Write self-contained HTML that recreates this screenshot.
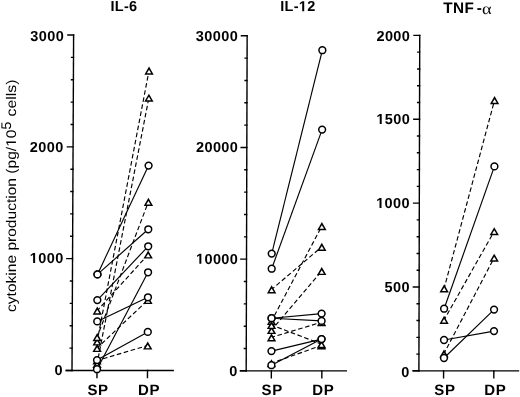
<!DOCTYPE html>
<html><head><meta charset="utf-8"><style>
html,body{margin:0;padding:0;background:#fff;}
body{width:520px;height:397px;overflow:hidden;}
svg{display:block;will-change:transform;}
text{font-family:"Liberation Sans",sans-serif;fill:#000;text-rendering:geometricPrecision;}
.tk{font-weight:bold;font-size:14.5px;text-anchor:end;letter-spacing:0.4px;}
.cat{font-weight:bold;font-size:15.0px;letter-spacing:0.7px;}
.ttl{font-weight:bold;font-size:14.5px;text-anchor:middle;letter-spacing:0.3px;}
.alpha{font-weight:normal;font-family:"Liberation Serif",serif;font-size:16px;}
.ttl2{font-weight:bold;font-size:15.3px;letter-spacing:0.5px;}
.ylab{font-size:14px;}
.ax{stroke:#000;stroke-width:1.4;fill:none;stroke-linecap:square;}
.sl{stroke:#000;stroke-width:1.15;fill:none;}
.dl{stroke:#000;stroke-width:1.15;fill:none;stroke-dasharray:4.6 2.6;stroke-dashoffset:1;}
.ci{stroke:#000;stroke-width:1.5;fill:#fff;}
.tr{stroke:#000;stroke-width:1.5;fill:#fff;stroke-linejoin:miter;}
</style></head><body>
<svg width="520" height="397" viewBox="0 0 520 397">
<text id="o5" class="ylab" transform="translate(15.9 312.0) rotate(-90) scale(1.111 1)">cytokine production (pg/ 0</text>
<text class="ylab" transform="translate(10.5 129.5) rotate(-90)">5</text>
<text class="ylab" transform="translate(15.9 116.5) rotate(-90) scale(1.13 1)">cells)</text>
<g transform="matrix(1 0 -0.0048 1 1.7782 0)"><path d="M72.00 35.00V370.45" class="ax"/>
<path d="M66.30 370.45H173.20" class="ax"/>
<path d="M66.30 370.50H72.00" class="ax"/>
<path d="M66.30 258.67H72.00" class="ax"/>
<path d="M66.30 146.83H72.00" class="ax"/>
<path d="M66.30 35.00H72.00" class="ax"/>
<path d="M70.10 348.09H72.00" class="ax"/>
<path d="M70.10 325.72H72.00" class="ax"/>
<path d="M70.10 303.36H72.00" class="ax"/>
<path d="M70.10 281.00H72.00" class="ax"/>
<path d="M70.10 236.27H72.00" class="ax"/>
<path d="M70.10 213.91H72.00" class="ax"/>
<path d="M70.10 191.54H72.00" class="ax"/>
<path d="M70.10 169.18H72.00" class="ax"/>
<path d="M70.10 124.45H72.00" class="ax"/>
<path d="M70.10 102.09H72.00" class="ax"/>
<path d="M70.10 79.73H72.00" class="ax"/>
<path d="M70.10 57.36H72.00" class="ax"/>
<path d="M97.00 370.45V377.45" class="ax"/>
<path d="M147.50 370.45V377.45" class="ax"/>
<path d="M97.00 310.60L147.60 254.50" class="dl"/>
<path d="M97.00 341.50L147.60 70.60" class="dl"/>
<path d="M97.00 337.10L147.60 201.80" class="dl"/>
<path d="M97.00 348.00L147.60 300.00" class="dl"/>
<path d="M97.00 360.50L147.60 345.50" class="dl"/>
<path d="M97.00 364.00L147.60 97.70" class="dl"/>
<path d="M97.00 274.40L147.60 165.60" class="sl"/>
<path d="M97.00 274.40L147.60 229.30" class="sl"/>
<path d="M97.00 300.10L147.60 246.30" class="sl"/>
<path d="M97.00 321.40L147.60 297.30" class="sl"/>
<path d="M97.00 360.10L147.60 331.90" class="sl"/>
<path d="M97.00 369.20L147.60 272.30" class="sl"/>
<path d="M97.00 306.55L101.65 314.70L92.35 314.70Z"/><path d="M97.00 309.75L99.15 313.25L94.85 313.25Z" fill="#fff"/>
<path d="M147.60 250.45L152.25 258.60L142.95 258.60Z"/><path d="M147.60 253.65L149.75 257.15L145.45 257.15Z" fill="#fff"/>
<path d="M97.00 337.45L101.65 345.60L92.35 345.60Z"/><path d="M97.00 340.65L99.15 344.15L94.85 344.15Z" fill="#fff"/>
<path d="M147.60 66.55L152.25 74.70L142.95 74.70Z"/><path d="M147.60 69.75L149.75 73.25L145.45 73.25Z" fill="#fff"/>
<path d="M97.00 333.05L101.65 341.20L92.35 341.20Z"/><path d="M97.00 336.25L99.15 339.75L94.85 339.75Z" fill="#fff"/>
<path d="M147.60 197.75L152.25 205.90L142.95 205.90Z"/><path d="M147.60 200.95L149.75 204.45L145.45 204.45Z" fill="#fff"/>
<path d="M97.00 343.95L101.65 352.10L92.35 352.10Z"/><path d="M97.00 347.15L99.15 350.65L94.85 350.65Z" fill="#fff"/>
<path d="M147.60 295.95L152.25 304.10L142.95 304.10Z"/><path d="M147.60 299.15L149.75 302.65L145.45 302.65Z" fill="#fff"/>
<path d="M97.00 356.45L101.65 364.60L92.35 364.60Z"/><path d="M97.00 359.65L99.15 363.15L94.85 363.15Z" fill="#fff"/>
<path d="M147.60 341.45L152.25 349.60L142.95 349.60Z"/><path d="M147.60 344.65L149.75 348.15L145.45 348.15Z" fill="#fff"/>
<path d="M97.00 359.95L101.65 368.10L92.35 368.10Z"/><path d="M97.00 363.15L99.15 366.65L94.85 366.65Z" fill="#fff"/>
<path d="M147.60 93.65L152.25 101.80L142.95 101.80Z"/><path d="M147.60 96.85L149.75 100.35L145.45 100.35Z" fill="#fff"/>
<circle cx="97.00" cy="274.40" r="3.4" class="ci"/>
<circle cx="147.60" cy="165.60" r="3.4" class="ci"/>
<circle cx="97.00" cy="274.40" r="3.4" class="ci"/>
<circle cx="147.60" cy="229.30" r="3.4" class="ci"/>
<circle cx="97.00" cy="300.10" r="3.4" class="ci"/>
<circle cx="147.60" cy="246.30" r="3.4" class="ci"/>
<circle cx="97.00" cy="321.40" r="3.4" class="ci"/>
<circle cx="147.60" cy="297.30" r="3.4" class="ci"/>
<circle cx="97.00" cy="360.10" r="3.4" class="ci"/>
<circle cx="147.60" cy="331.90" r="3.4" class="ci"/>
<circle cx="97.00" cy="369.20" r="3.4" class="ci"/>
<circle cx="147.60" cy="272.30" r="3.4" class="ci"/></g>
<text x="124.00" y="10.90" class="ttl">IL-6</text>
<g transform="matrix(1 0 -0.0028 1 1.0384 0)"><path d="M246.20 35.80V370.85" class="ax"/>
<path d="M240.50 370.85H346.30" class="ax"/>
<path d="M240.50 370.80H246.20" class="ax"/>
<path d="M240.50 259.15H246.20" class="ax"/>
<path d="M240.50 147.45H246.20" class="ax"/>
<path d="M240.50 35.80H246.20" class="ax"/>
<path d="M244.30 348.51H246.20" class="ax"/>
<path d="M244.30 326.18H246.20" class="ax"/>
<path d="M244.30 303.84H246.20" class="ax"/>
<path d="M244.30 281.50H246.20" class="ax"/>
<path d="M244.30 236.83H246.20" class="ax"/>
<path d="M244.30 214.49H246.20" class="ax"/>
<path d="M244.30 192.16H246.20" class="ax"/>
<path d="M244.30 169.82H246.20" class="ax"/>
<path d="M244.30 125.15H246.20" class="ax"/>
<path d="M244.30 102.81H246.20" class="ax"/>
<path d="M244.30 80.47H246.20" class="ax"/>
<path d="M244.30 58.14H246.20" class="ax"/>
<path d="M271.35 370.85V377.85" class="ax"/>
<path d="M321.85 370.85V377.85" class="ax"/>
<path d="M271.40 289.40L321.45 246.80" class="dl"/>
<path d="M271.40 321.00L321.45 226.10" class="dl"/>
<path d="M271.40 330.00L321.45 271.00" class="dl"/>
<path d="M271.40 337.30L321.45 322.20" class="dl"/>
<path d="M271.40 363.20L321.45 345.40" class="dl"/>
<path d="M271.40 325.00L321.45 344.10" class="dl"/>
<path d="M271.40 253.60L321.45 50.20" class="sl"/>
<path d="M271.40 268.70L321.45 129.60" class="sl"/>
<path d="M271.40 318.20L321.45 313.60" class="sl"/>
<path d="M271.40 318.20L321.45 320.90" class="sl"/>
<path d="M271.40 351.10L321.45 339.10" class="sl"/>
<path d="M271.40 365.20L321.45 339.10" class="sl"/>
<path d="M271.40 285.35L276.05 293.50L266.75 293.50Z"/><path d="M271.40 288.55L273.55 292.05L269.25 292.05Z" fill="#fff"/>
<path d="M321.45 242.75L326.10 250.90L316.80 250.90Z"/><path d="M321.45 245.95L323.60 249.45L319.30 249.45Z" fill="#fff"/>
<path d="M271.40 316.95L276.05 325.10L266.75 325.10Z"/><path d="M271.40 320.15L273.55 323.65L269.25 323.65Z" fill="#fff"/>
<path d="M321.45 222.05L326.10 230.20L316.80 230.20Z"/><path d="M321.45 225.25L323.60 228.75L319.30 228.75Z" fill="#fff"/>
<path d="M271.40 325.95L276.05 334.10L266.75 334.10Z"/><path d="M271.40 329.15L273.55 332.65L269.25 332.65Z" fill="#fff"/>
<path d="M321.45 266.95L326.10 275.10L316.80 275.10Z"/><path d="M321.45 270.15L323.60 273.65L319.30 273.65Z" fill="#fff"/>
<path d="M271.40 333.25L276.05 341.40L266.75 341.40Z"/><path d="M271.40 336.45L273.55 339.95L269.25 339.95Z" fill="#fff"/>
<path d="M321.45 318.15L326.10 326.30L316.80 326.30Z"/><path d="M321.45 321.35L323.60 324.85L319.30 324.85Z" fill="#fff"/>
<path d="M271.40 359.15L276.05 367.30L266.75 367.30Z"/><path d="M271.40 362.35L273.55 365.85L269.25 365.85Z" fill="#fff"/>
<path d="M321.45 341.35L326.10 349.50L316.80 349.50Z"/><path d="M321.45 344.55L323.60 348.05L319.30 348.05Z" fill="#fff"/>
<path d="M271.40 320.95L276.05 329.10L266.75 329.10Z"/><path d="M271.40 324.15L273.55 327.65L269.25 327.65Z" fill="#fff"/>
<path d="M321.45 340.05L326.10 348.20L316.80 348.20Z"/><path d="M321.45 343.25L323.60 346.75L319.30 346.75Z" fill="#fff"/>
<circle cx="271.40" cy="253.60" r="3.4" class="ci"/>
<circle cx="321.45" cy="50.20" r="3.4" class="ci"/>
<circle cx="271.40" cy="268.70" r="3.4" class="ci"/>
<circle cx="321.45" cy="129.60" r="3.4" class="ci"/>
<circle cx="271.40" cy="318.20" r="3.4" class="ci"/>
<circle cx="321.45" cy="313.60" r="3.4" class="ci"/>
<circle cx="271.40" cy="318.20" r="3.4" class="ci"/>
<circle cx="321.45" cy="320.90" r="3.4" class="ci"/>
<circle cx="271.40" cy="351.10" r="3.4" class="ci"/>
<circle cx="321.45" cy="339.10" r="3.4" class="ci"/>
<circle cx="271.40" cy="365.20" r="3.4" class="ci"/>
<circle cx="321.45" cy="339.10" r="3.4" class="ci"/></g>
<text id="o0" x="297.90" y="11.30" class="ttl">IL- 2</text>
<g transform="matrix(1 0 -0.0025 1 0.9272 0)"><path d="M418.90 35.40V370.90" class="ax"/>
<path d="M413.20 370.90H518.50" class="ax"/>
<path d="M413.20 370.80H418.90" class="ax"/>
<path d="M413.20 287.00H418.90" class="ax"/>
<path d="M413.20 203.10H418.90" class="ax"/>
<path d="M413.20 119.20H418.90" class="ax"/>
<path d="M413.20 35.40H418.90" class="ax"/>
<path d="M417.00 354.12H418.90" class="ax"/>
<path d="M417.00 337.35H418.90" class="ax"/>
<path d="M417.00 320.57H418.90" class="ax"/>
<path d="M417.00 303.80H418.90" class="ax"/>
<path d="M417.00 270.25H418.90" class="ax"/>
<path d="M417.00 253.47H418.90" class="ax"/>
<path d="M417.00 236.70H418.90" class="ax"/>
<path d="M417.00 219.92H418.90" class="ax"/>
<path d="M417.00 186.37H418.90" class="ax"/>
<path d="M417.00 169.60H418.90" class="ax"/>
<path d="M417.00 152.82H418.90" class="ax"/>
<path d="M417.00 136.05H418.90" class="ax"/>
<path d="M417.00 102.50H418.90" class="ax"/>
<path d="M417.00 85.72H418.90" class="ax"/>
<path d="M417.00 68.95H418.90" class="ax"/>
<path d="M417.00 52.17H418.90" class="ax"/>
<path d="M443.60 370.90V377.90" class="ax"/>
<path d="M493.85 370.90V377.90" class="ax"/>
<path d="M443.95 288.30L493.90 100.10" class="dl"/>
<path d="M443.95 319.90L493.90 231.20" class="dl"/>
<path d="M443.95 353.50L493.90 257.70" class="dl"/>
<path d="M443.95 308.70L493.90 166.40" class="sl"/>
<path d="M443.95 340.00L493.90 331.10" class="sl"/>
<path d="M443.95 358.00L493.90 309.60" class="sl"/>
<path d="M443.95 284.25L448.60 292.40L439.30 292.40Z"/><path d="M443.95 287.45L446.10 290.95L441.80 290.95Z" fill="#fff"/>
<path d="M493.90 96.05L498.55 104.20L489.25 104.20Z"/><path d="M493.90 99.25L496.05 102.75L491.75 102.75Z" fill="#fff"/>
<path d="M443.95 315.85L448.60 324.00L439.30 324.00Z"/><path d="M443.95 319.05L446.10 322.55L441.80 322.55Z" fill="#fff"/>
<path d="M493.90 227.15L498.55 235.30L489.25 235.30Z"/><path d="M493.90 230.35L496.05 233.85L491.75 233.85Z" fill="#fff"/>
<path d="M443.95 349.45L448.60 357.60L439.30 357.60Z"/><path d="M443.95 352.65L446.10 356.15L441.80 356.15Z" fill="#fff"/>
<path d="M493.90 253.65L498.55 261.80L489.25 261.80Z"/><path d="M493.90 256.85L496.05 260.35L491.75 260.35Z" fill="#fff"/>
<circle cx="443.95" cy="308.70" r="3.4" class="ci"/>
<circle cx="493.90" cy="166.40" r="3.4" class="ci"/>
<circle cx="443.95" cy="340.00" r="3.4" class="ci"/>
<circle cx="493.90" cy="331.10" r="3.4" class="ci"/>
<circle cx="443.95" cy="358.00" r="3.4" class="ci"/>
<circle cx="493.90" cy="309.60" r="3.4" class="ci"/></g>
<text x="443.2" y="13.1" class="ttl2">TNF</text>
<text x="476.8" y="13.1" class="ttl2">-</text>
<text class="alpha" transform="translate(481.9 13.5) scale(1.15 1)">α</text>
<text x="87.40" y="394.60" class="cat">SP</text>
<text x="137.90" y="394.70" class="cat">DP</text>
<text x="261.50" y="394.80" class="cat">SP</text>
<text x="312.30" y="395.00" class="cat">DP</text>
<text x="434.30" y="395.20" class="cat">SP</text>
<text x="484.30" y="395.00" class="cat">DP</text>
<text x="64.10" y="41.00" class="tk">3000</text>
<text x="63.70" y="151.75" class="tk">2000</text>
<text id="o1" x="63.60" y="263.10" class="tk"> 000</text>
<text x="63.00" y="375.30" class="tk">0</text>
<text x="238.20" y="41.20" class="tk">30000</text>
<text x="238.30" y="152.30" class="tk">20000</text>
<text id="o2" x="238.30" y="263.85" class="tk"> 0000</text>
<text x="237.60" y="376.10" class="tk">0</text>
<text x="410.30" y="40.90" class="tk">2000</text>
<text id="o3" x="410.20" y="124.10" class="tk"> 500</text>
<text id="o4" x="410.00" y="208.10" class="tk"> 000</text>
<text x="410.00" y="292.35" class="tk">500</text>
<text x="409.60" y="376.60" class="tk">0</text>
<g fill="#000"><path transform="translate(298.837 11.300) scale(0.007080 -0.007080)" d="M478 0L478 1170L140 959L140 1180L493 1409L759 1409L759 0Z"/><path transform="translate(29.741 263.100) scale(0.007080 -0.007080)" d="M478 0L478 1170L140 959L140 1180L493 1409L759 1409L759 0Z"/><path transform="translate(195.972 263.850) scale(0.007080 -0.007080)" d="M478 0L478 1170L140 959L140 1180L493 1409L759 1409L759 0Z"/><path transform="translate(376.341 124.100) scale(0.007080 -0.007080)" d="M478 0L478 1170L140 959L140 1180L493 1409L759 1409L759 0Z"/><path transform="translate(376.141 208.100) scale(0.007080 -0.007080)" d="M478 0L478 1170L140 959L140 1180L493 1409L759 1409L759 0Z"/><g transform="translate(15.9 312.0) rotate(-90) scale(1.111 1)"><path transform="translate(148.641 0.000) scale(0.006836 -0.006836)" d="M515 0L515 1237L197 1010L197 1180L530 1409L696 1409L696 0Z"/></g></g>
</svg>
</body></html>
